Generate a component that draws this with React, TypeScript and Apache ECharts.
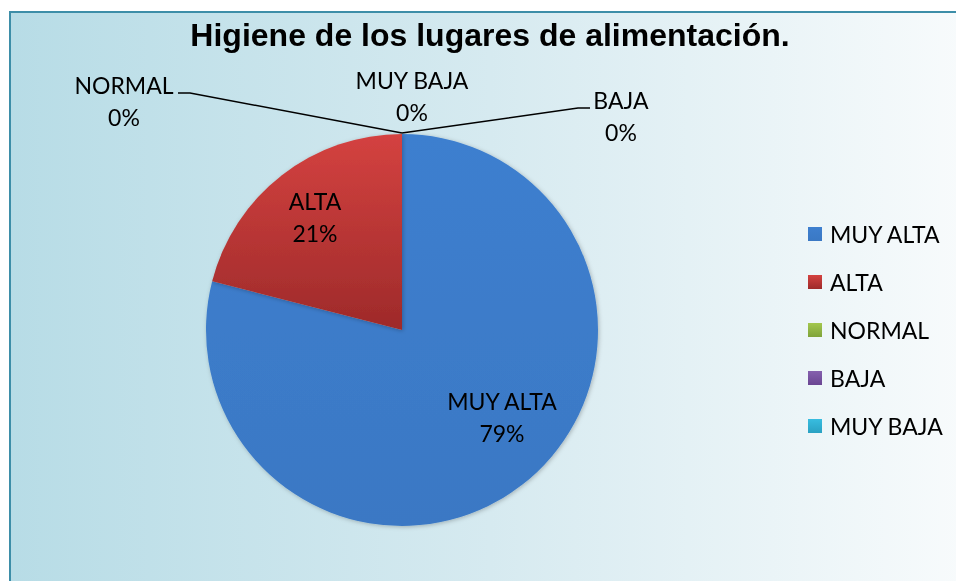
import React, { useEffect, useRef } from "react";
import * as echarts from "echarts";

const titleText = "Higiene de los lugares de alimentación.";
const categories = ["MUY ALTA", "ALTA", "NORMAL", "BAJA", "MUY BAJA"];
const values = [79, 21, 0, 0, 0];

const LABEL_FONT = "Lato";

export default function App() {
  const ref = useRef<HTMLDivElement>(null);

  useEffect(() => {
    if (!ref.current) return;
    const chart = echarts.init(ref.current, undefined, { renderer: "svg" });

    const grad = (top: string, bottom: string) =>
      new echarts.graphic.LinearGradient(0, 0, 0, 1, [
        { offset: 0, color: top },
        { offset: 1, color: bottom },
      ]);

    const colors = [
      grad("#3e7fcf", "#3a78c4"),
      grad("#d44240", "#9e2a2a"),
      grad("#a3c74e", "#7fa33a"),
      grad("#8560ae", "#6a4592"),
      grad("#38bde0", "#2aa1c2"),
    ];

    const labelPos: Record<number, any> = {
      0: { x: 502, y: 417, align: "center", verticalAlign: "middle" },
      1: { x: 315, y: 217, align: "center", verticalAlign: "middle" },
      2: {
        x: 124,
        y: 101,
        align: "center",
        verticalAlign: "middle",
        labelLinePoints: [
          [402, 133],
          [190, 93],
          [178, 93],
        ],
      },
      3: {
        x: 621,
        y: 116,
        align: "center",
        verticalAlign: "middle",
        labelLinePoints: [
          [402, 133],
          [578, 108],
          [590, 108],
        ],
      },
      4: { x: 412, y: 96, align: "center", verticalAlign: "middle" },
    };

    const data = categories.map((name, i) => ({
      name,
      value: values[i],
      itemStyle: { color: colors[i] },
      label: { position: i < 2 ? "inside" : "outside" },
      labelLine: { show: i === 2 || i === 3 },
    }));

    chart.setOption({
      animation: false,
      graphic: [
        {
          type: "rect",
          z: -10,
          silent: true,
          shape: { x: 10, y: 12, width: 960, height: 600 },
          style: {
            fill: new echarts.graphic.LinearGradient(0, 0, 1, 0, [
              { offset: 0, color: "#b7dce6" },
              { offset: 0.5, color: "#d6eaf0" },
              { offset: 1, color: "#f8fbfc" },
            ]),
            stroke: "#3d8ea8",
            lineWidth: 2,
          },
        },
        {
          type: "text",
          x: 490,
          y: 35,
          z: 10,
          style: {
            text: titleText,
            fill: "#000000",
            font: "bold 32px 'Liberation Sans', Arial, sans-serif",
            textAlign: "center",
            textVerticalAlign: "middle",
          },
        },
      ],
      legend: {
        orient: "vertical",
        left: 803,
        top: 217,
        itemWidth: 14,
        itemHeight: 14,
        itemGap: 24,
        icon: "rect",
        data: categories,
        textStyle: {
          fontFamily: LABEL_FONT,
          fontSize: 23,
          lineHeight: 24,
          color: "#000000",
          padding: [0, 0, 0, 3],
        },
      },
      series: [
        {
          type: "pie",
          center: [402, 330],
          radius: 196,
          startAngle: 90,
          clockwise: true,
          avoidLabelOverlap: false,
          minShowLabelAngle: 0,
          percentPrecision: 0,
          itemStyle: {
            shadowBlur: 4,
            shadowColor: "rgba(0,0,0,0.25)",
            shadowOffsetX: 1,
            shadowOffsetY: 1,
          },
          label: {
            show: true,
            formatter: "{b}\n{d}%",
            fontFamily: LABEL_FONT,
            fontSize: 23,
            lineHeight: 32,
            color: "#000000",
          },
          labelLine: {
            show: true,
            lineStyle: { color: "#000000", width: 1.5 },
          },
          emphasis: { disabled: true },
          labelLayout: (params: any) => labelPos[params.dataIndex] || {},
          data,
        },
      ],
    });

    return () => chart.dispose();
  }, []);

  return (
    <div
      ref={ref}
      style={{ position: "fixed", left: 0, top: 0, width: 956, height: 581 }}
    />
  );
}
